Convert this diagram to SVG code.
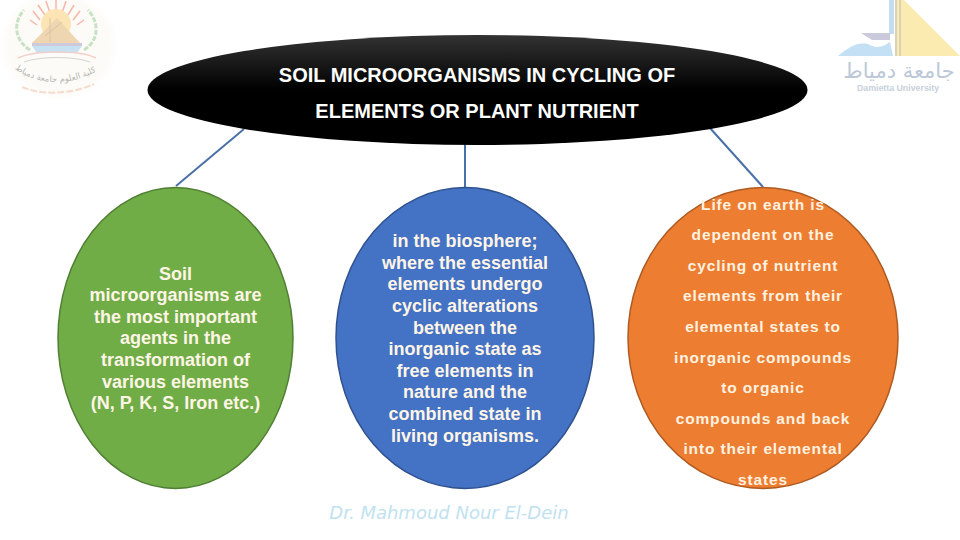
<svg xmlns="http://www.w3.org/2000/svg" width="960" height="540" viewBox="0 0 960 540">
<style>
text{font-family:"Liberation Sans",Arial,sans-serif;text-anchor:middle}
.t{fill:#fff;font-size:20px;font-weight:bold}
.b{fill:#fff5e6;font-size:18px;font-weight:bold}
.o{fill:#fff2e0;font-size:15.500px;font-weight:bold;letter-spacing:.85px}
.c{stroke:#4a70a8;stroke-width:2;fill:none}
</style>
<defs>
<radialGradient id="halo"><stop offset="0" stop-color="#fdfbf7"/><stop offset=".85" stop-color="#fdfbf8"/><stop offset="1" stop-color="#fff"/></radialGradient>
<linearGradient id="blk" x1="0" x2="0" y1="0" y2="1"><stop offset="0" stop-color="#333"/><stop offset=".5" stop-color="#000"/></linearGradient>
<path id="arc" d="M8 62C30 88 76 88 104 66"/>
</defs>
<g id="logo-left">
<ellipse cx="59" cy="46" rx="60" ry="54" fill="url(#halo)"/>
<g stroke="#f7b6a6" stroke-width="1.500"><path d="M56 13V0M50 13 46 1M62 13 66 1M45 15 38 5M68 15 74 5M40 20 33 11M73 20 80 11M37 25 30 20M77 25 84 20"/></g>
<circle cx="56" cy="24" r="15" fill="#fce4b4"/>
<path d="M57 18 32 43H80Z" fill="#eed6b0"/>
<path d="M50 18V42M45 36 62 22" stroke="#d8c4a4" stroke-width="1" fill="none"/>
<rect x="32" y="43" width="50" height="3" fill="#cfc9dc"/>
<path d="M32 46H82L77 53H37Z" fill="#c6e2f2"/>
<path d="M30 50C14 40 13 22 24 10M84 50C100 40 99 22 88 10" fill="none" stroke="#c9e2c6" stroke-width="3" stroke-dasharray="5 1.500"/>
<path d="M18 58C35 50 80 50 96 58" fill="none" stroke="#f4cfca" stroke-width="1.500"/>
<path d="M24 62C40 56 74 56 90 62" fill="none" stroke="#d4d4d0" stroke-width="1"/>
<text style="font-family:'DejaVu Sans',sans-serif;font-size:8.500px;fill:#b8b8b4"><textPath href="#arc" startOffset="50%">كلية العلوم جامعة دمياط</textPath></text>
<path d="M22 87C40 95 70 95 94 84" fill="none" stroke="#f6dccd" stroke-width="2" stroke-dasharray="7 2"/>
</g>
<g id="logo-right">
<path d="M904 0 960 56H896V0Z" fill="#fcebb0"/>
<rect x="895" y="0" width="2" height="56" fill="#d8d2b8"/><rect x="899" y="0" width="2" height="56" fill="#d8d2b8"/>
<rect x="889" y="0" width="5" height="34" fill="#c4dcf2"/>
<path d="M861 33H890V40H872Z" fill="#cbc9dc"/>
<path d="M838 56C850 46 858 42 868 44C878 50 884 46 890 42L893 56Z" fill="#c4e0f5"/>
<text x="899" y="78" style="font-family:'DejaVu Sans',sans-serif;font-size:21px;fill:#bcc8d8">جامعة دمياط</text>
<text x="898" y="91" style="font-size:8.800px;font-weight:bold;fill:#c8d0da">Damietta University</text>
</g>
<g id="connectors">
<path class="c" d="M244 129 176 186"/>
<path class="c" d="M465 144V187"/>
<path class="c" d="M710 128 763 187"/>
</g>
<g id="title"><ellipse cx="477.500" cy="90" rx="330" ry="55" fill="url(#blk)"/>
<text class="t" x="477" y="82">SOIL MICROORGANISMS IN CYCLING OF</text>
<text class="t" x="477" y="118">ELEMENTS OR PLANT NUTRIENT</text></g>
<g id="green"><ellipse cx="175.500" cy="338" rx="117.500" ry="150.500" fill="#70ad47" stroke="#507e32" stroke-width="1.500"/>
<text class="b" x="175.500" y="279.500">Soil</text>
<text class="b" x="175.500" y="301">microorganisms are</text>
<text class="b" x="175.500" y="322.500">the most important</text>
<text class="b" x="175.500" y="344">agents in the</text>
<text class="b" x="175.500" y="365.500">transformation of</text>
<text class="b" x="175.500" y="387.500">various elements</text>
<text class="b" x="175.500" y="408.500">(N, P, K, S, Iron etc.)</text></g>
<g id="blue"><ellipse cx="465" cy="338" rx="129" ry="150.500" fill="#4472c4" stroke="#2f528f" stroke-width="1.500"/>
<text class="b" x="465" y="246.500">in the biosphere;</text>
<text class="b" x="465" y="268.500">where the essential</text>
<text class="b" x="465" y="289.500">elements undergo</text>
<text class="b" x="465" y="311.500">cyclic alterations</text>
<text class="b" x="465" y="333.500">between the</text>
<text class="b" x="465" y="354.500">inorganic state as</text>
<text class="b" x="465" y="376.500">free elements in</text>
<text class="b" x="465" y="397.500">nature and the</text>
<text class="b" x="465" y="419.500">combined state in</text>
<text class="b" x="465" y="441.500">living organisms.</text></g>
<g id="orange"><ellipse cx="763" cy="338" rx="135" ry="150.500" fill="#ed7d31" stroke="#ae5a21" stroke-width="1.500"/>
<text class="o" x="763" y="210">Life on earth is</text>
<text class="o" x="763" y="240">dependent on the</text>
<text class="o" x="763" y="271">cycling of nutrient</text>
<text class="o" x="763" y="301">elements from their</text>
<text class="o" x="763" y="332">elemental states to</text>
<text class="o" x="763" y="363">inorganic compounds</text>
<text class="o" x="763" y="393">to organic</text>
<text class="o" x="763" y="424">compounds and back</text>
<text class="o" x="763" y="454">into their elemental</text>
<text class="o" x="763" y="485">states</text></g>
<g id="signature"><text x="449" y="519" style="font-family:'DejaVu Sans',sans-serif;font-style:italic;font-size:18px;fill:#bfe2f0">Dr. Mahmoud Nour El-Dein</text></g>
</svg>
